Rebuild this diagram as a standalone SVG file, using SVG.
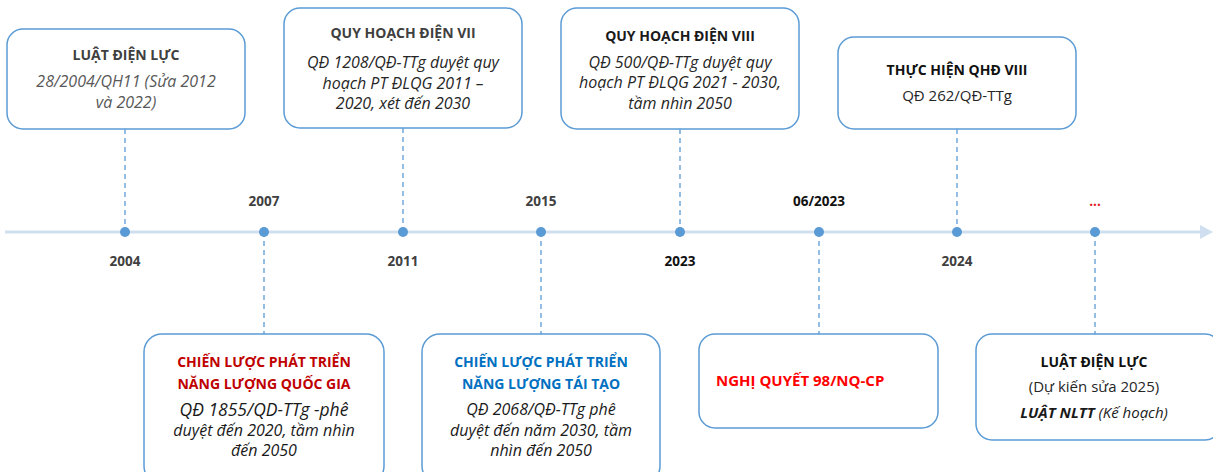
<svg xmlns="http://www.w3.org/2000/svg" width="1213" height="472" viewBox="0 0 1213 472">
<style>
.box{fill:#ffffff;stroke:#5b9bd5;stroke-width:1.5}
.dash{stroke:#5b9bd5;stroke-width:1.3;stroke-dasharray:5 4;fill:none}
.dot{fill:#5b9bd5}
text{font-family:"Open Sans","Noto Sans","Liberation Sans",sans-serif;text-anchor:middle}
.t{font-size:14px;font-weight:bold}
.i{font-size:16px;font-style:italic}
.r{font-size:15px}
.yr{font-size:13.5px;font-weight:bold;fill:#404040}
</style>
<rect width="1213" height="472" fill="#ffffff"/>
<g id="timeline">
<line x1="5" y1="232" x2="1202" y2="232" stroke="#cfdff0" stroke-width="3"/>
<polygon points="1200,225 1213,232 1200,239" fill="#cfdff0"/>
</g>
<g id="connectors">
<line class="dash" x1="125" y1="129" x2="125" y2="232"/>
<line class="dash" x1="403" y1="128" x2="403" y2="232"/>
<line class="dash" x1="680" y1="129" x2="680" y2="232"/>
<line class="dash" x1="957" y1="129" x2="957" y2="232"/>
<line class="dash" x1="264" y1="232" x2="264" y2="334"/>
<line class="dash" x1="541" y1="232" x2="541" y2="334"/>
<line class="dash" x1="819" y1="232" x2="819" y2="334"/>
<line class="dash" x1="1095" y1="232" x2="1095" y2="334"/>
</g>
<g id="dots">
<circle class="dot" cx="125" cy="232" r="5"/>
<circle class="dot" cx="264" cy="232" r="5"/>
<circle class="dot" cx="403" cy="232" r="5"/>
<circle class="dot" cx="541" cy="232" r="5"/>
<circle class="dot" cx="680" cy="232" r="5"/>
<circle class="dot" cx="819" cy="232" r="5"/>
<circle class="dot" cx="957" cy="232" r="5"/>
<circle class="dot" cx="1095" cy="232" r="5"/>
</g>
<g id="years">
<text class="yr" x="125" y="266">2004</text>
<text class="yr" x="264" y="206">2007</text>
<text class="yr" x="403" y="266">2011</text>
<text class="yr" x="541" y="206">2015</text>
<text class="yr" x="680" y="266" style="fill:#111111">2023</text>
<text class="yr" x="819" y="206" style="fill:#111111">06/2023</text>
<text class="yr" x="957" y="266">2024</text>
<text class="yr" x="1095" y="206" style="fill:#e02020">...</text>
</g>
<g id="node-luat-2004">
<rect class="box" x="7" y="29" width="238" height="100" rx="16"/>
<text class="t" x="126" y="60" fill="#404040">LUẬT ĐIỆN LỰC</text>
<text class="i" x="126" y="87" fill="#595959">28/2004/QH11 (Sửa 2012</text>
<text class="i" x="126" y="108" fill="#595959">và 2022)</text>
</g>
<g id="node-qhd7">
<rect class="box" x="284" y="8" width="238" height="120" rx="16"/>
<text class="t" x="403" y="38" fill="#404040">QUY HOẠCH ĐIỆN VII</text>
<text class="i" x="403" y="68" fill="#262626">QĐ 1208/QĐ-TTg duyệt quy</text>
<text class="i" x="403" y="89" fill="#262626">hoạch PT ĐLQG 2011 –</text>
<text class="i" x="403" y="109" fill="#262626">2020, xét đến 2030</text>
</g>
<g id="node-qhd8">
<rect class="box" x="561" y="8" width="238" height="121" rx="16"/>
<text class="t" x="680" y="41" fill="#1a1a1a">QUY HOẠCH ĐIỆN VIII</text>
<text class="i" x="680" y="68" fill="#262626">QĐ 500/QĐ-TTg duyệt quy</text>
<text class="i" x="680" y="88" fill="#262626">hoạch PT ĐLQG 2021 - 2030,</text>
<text class="i" x="680" y="109" fill="#262626">tầm nhìn 2050</text>
</g>
<g id="node-thuc-hien">
<rect class="box" x="838" y="37" width="238" height="92" rx="16"/>
<text class="t" x="957" y="75" fill="#111111">THỰC HIỆN QHĐ VIII</text>
<text class="r" x="957" y="101" fill="#262626">QĐ 262/QĐ-TTg</text>
</g>
<g id="node-chien-luoc-qg">
<rect class="box" x="144" y="334" width="240" height="150" rx="18"/>
<text class="t" x="264" y="367" fill="#c00000">CHIẾN LƯỢC PHÁT TRIỂN</text>
<text class="t" x="264" y="389" fill="#c00000">NĂNG LƯỢNG QUỐC GIA</text>
<text class="i" x="264" y="416" fill="#1a1a1a" style="font-size:17.5px">QĐ 1855/QD-TTg -phê</text>
<text class="i" x="264" y="436" fill="#1a1a1a">duyệt đến 2020, tầm nhìn</text>
<text class="i" x="264" y="456" fill="#1a1a1a">đến 2050</text>
</g>
<g id="node-chien-luoc-tt">
<rect class="box" x="422" y="334" width="238" height="150" rx="18"/>
<text class="t" x="541" y="367" fill="#0070c0">CHIẾN LƯỢC PHÁT TRIỂN</text>
<text class="t" x="541" y="389" fill="#0070c0">NĂNG LƯỢNG TÁI TẠO</text>
<text class="i" x="541" y="415" fill="#1a1a1a">QĐ 2068/QĐ-TTg phê</text>
<text class="i" x="541" y="436" fill="#1a1a1a">duyệt đến năm 2030, tầm</text>
<text class="i" x="541" y="456" fill="#1a1a1a">nhìn đến 2050</text>
</g>
<g id="node-nghi-quyet">
<rect class="box" x="699" y="334" width="239" height="94" rx="16"/>
<text class="t" x="716" y="386" fill="#ff0000" style="text-anchor:start;font-size:15px">NGHỊ QUYẾT 98/NQ-CP</text>
</g>
<g id="node-luat-2025">
<rect class="box" x="976" y="334" width="245" height="106" rx="16"/>
<text class="t" x="1094" y="367" fill="#111111">LUẬT ĐIỆN LỰC</text>
<text class="r" x="1094" y="392" fill="#262626">(Dự kiến sửa 2025)</text>
<text class="i" x="1094" y="418" fill="#1a1a1a" style="font-size:15px"><tspan font-weight="bold">LUẬT NLTT</tspan> (Kế hoạch)</text>
</g>
</svg>
